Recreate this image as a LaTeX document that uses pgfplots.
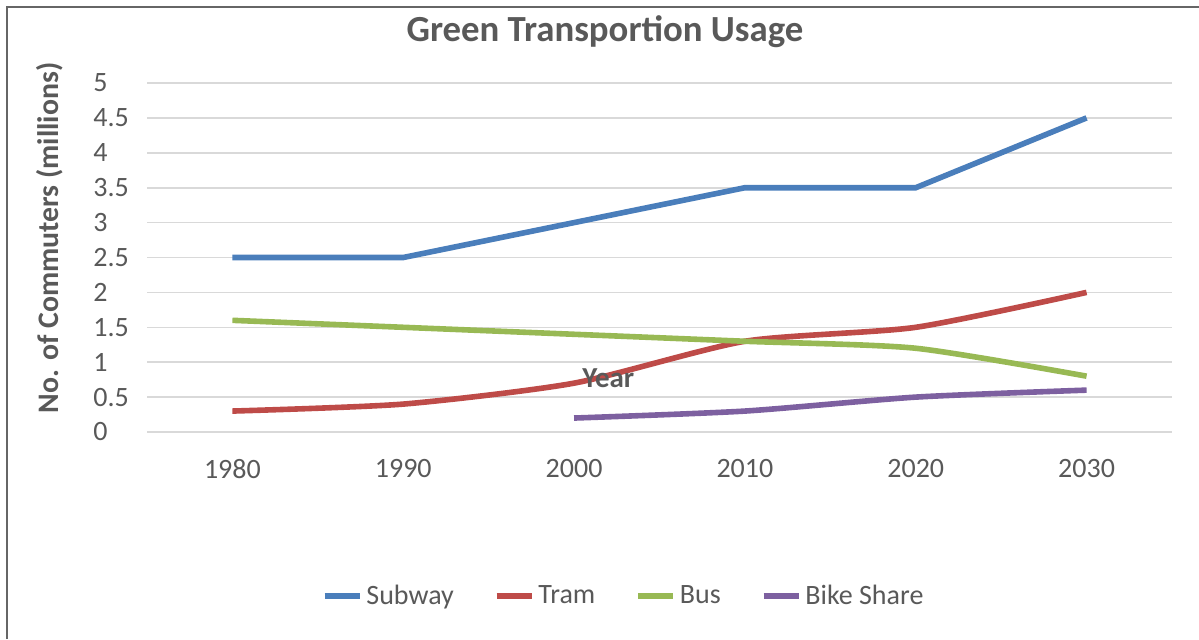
\documentclass[border=0pt]{standalone}
\usepackage{pgfplots}
\pgfplotsset{compat=1.18}
\usepackage{fontspec}
\setmainfont{Carlito}
\definecolor{txt}{HTML}{595959}
\definecolor{grid}{HTML}{D9D9D9}
\definecolor{cSub}{HTML}{4A7EBB}
\definecolor{cTram}{HTML}{BE4B48}
\definecolor{cBus}{HTML}{98B954}
\definecolor{cBike}{HTML}{7D60A0}
\begin{document}
\begin{tikzpicture}
\path[use as bounding box] (0,0) rectangle (599.5pt,319.5pt);
\draw[gray!80!black, line width=1pt] (3.5pt,0) -- (3.5pt,316pt) -- (599.5pt,316pt);
\node[font=\fontsize{18.4}{21}\selectfont\bfseries, text=txt] at (302.5pt,303.5pt) {Green Transportion Usage};
\node[font=\fontsize{14.9}{17}\selectfont\bfseries, text=txt, rotate=90] at (25pt,200.5pt) {No. of Commuters (millions)};
\begin{axis}[
  at={(73.5pt,103.5pt)}, anchor=south west,
  scale only axis, width=512.5pt, height=174.5pt,
  xmin=-0.5, xmax=5.5, ymin=0, ymax=5,
  xtick={0,1,2,3,4,5}, xticklabels={1980,1990,2000,2010,2020,2030},
  ytick={0,0.5,1,1.5,2,2.5,3,3.5,4,4.5,5},
  yticklabels={0,0.5,1,1.5,2,2.5,3,3.5,4,4.5,5},
  axis x line*=bottom, axis y line*=left,
  x axis line style={draw=grid, line width=0.8pt, -},
  y axis line style={draw=none},
  ymajorgrids, grid style={draw=grid, line width=0.8pt},
  major tick length=0pt,
  tick label style={font=\fontsize{14}{16}\selectfont, text=txt},
  /pgf/number format/assume math mode=true,
  yticklabel style={anchor=west, inner sep=0pt, xshift=-27pt},
  xticklabel style={inner sep=0pt, yshift=-13.5pt},
  clip=false,
  legend style={at={(0.466,-0.47)}, anchor=center, draw=none, fill=none,
    font=\fontsize{14}{16}\selectfont, text=txt, legend columns=4,
    /tikz/every even column/.append style={column sep=18pt}},
  legend cell align=left,
  legend image code/.code={\draw[#1, line width=2.8pt] (0pt,0pt) -- (17.5pt,0pt);},
]
\addplot[cSub, line width=2.8pt] coordinates {(0,2.5) (1,2.5) (2,3.0) (3,3.5) (4,3.5) (5,4.5)};
\addlegendentry{Subway}
\addplot[cTram, line width=2.8pt, smooth, tension=0.4] coordinates {(0,0.3) (1,0.4) (2,0.7) (3,1.3) (4,1.5) (5,2.0)};
\addlegendentry{Tram}
\addplot[cBus, line width=2.8pt, smooth, tension=0.4] coordinates {(0,1.6) (1,1.5) (2,1.4) (3,1.3) (4,1.2) (5,0.8)};
\addlegendentry{Bus}
\addplot[cBike, line width=2.8pt, smooth, tension=0.4] coordinates {(2,0.2) (3,0.3) (4,0.5) (5,0.6)};
\addlegendentry{Bike Share}
\node[font=\fontsize{14.5}{16}\selectfont\bfseries, text=txt] at (axis cs:2.2,0.77) {Year};
\end{axis}
\end{tikzpicture}
\end{document}
